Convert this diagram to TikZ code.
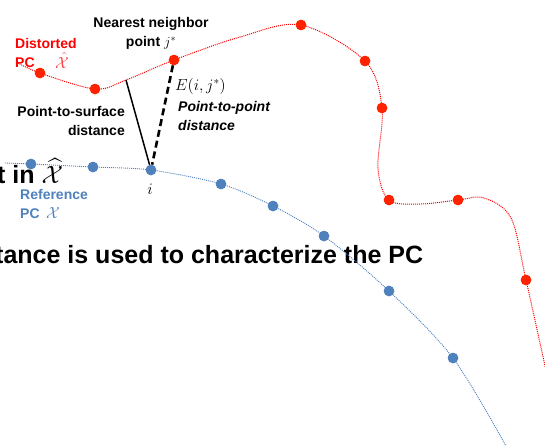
\RequirePackage{fix-cm}
\documentclass[tikz,border=0pt]{standalone}
\usepackage{amsmath,amssymb}
\usepackage{fontspec}
\setsansfont{Liberation Sans}
\usepackage{tikz}
\usetikzlibrary{positioning}
\definecolor{ptred}{RGB}{255,34,0}
\definecolor{ptblue}{RGB}{79,129,189}

\begin{document}
\begin{tikzpicture}[
  x=1pt, y=-1pt,
  rdot/.style={circle, fill=ptred, inner sep=0pt, minimum size=10.5pt},
  bdot/.style={circle, fill=ptblue, inner sep=0pt, minimum size=10.5pt},
  rcurve/.style={draw=red, line width=1pt, dash pattern=on 1pt off 1pt},
  bcurve/.style={draw=ptblue, line width=0.9pt, dash pattern=on 1pt off 1pt},
  lab/.style={font=\sffamily\bfseries\fontsize{14}{19}\selectfont, inner sep=0pt},
  mth/.style={font=\fontsize{16}{19}\selectfont, inner sep=0pt},
  big/.style={font=\sffamily\bfseries\fontsize{25}{30}\selectfont, inner sep=0pt, anchor=base west}
]
\useasboundingbox (0,0) rectangle (545,444);
\clip (0,0) rectangle (545,444);

\node[big] (tin)  at (-3,183) {t in $\widehat{\mathcal{X}}$};
\node[big] (used) at (-5,263) {tance is used to characterize the PC};

\coordinate (r0) at (16,62);
\node[rdot] (r1) at (40,73) {};
\node[rdot] (r2) at (95,89) {};
\coordinate (p)  at (126,80);
\node[rdot] (r3) at (174,60) {};
\coordinate (ra) at (240,37);
\node[rdot] (r4) at (301,25) {};
\node[rdot] (r5) at (365,61) {};
\node[rdot] (r6) at (382,108) {};
\coordinate (rb) at (378,168);
\node[rdot] (r7) at (389,200) {};
\coordinate (rc) at (420,204);
\node[rdot] (r8) at (458,200) {};
\coordinate (rd) at (484,198);
\coordinate (re) at (511,218);
\node[rdot] (r9) at (526,280) {};
\coordinate (rf) at (547,375);

\coordinate (b0) at (5,163);
\node[bdot] (b1) at (31,164) {};
\node[bdot] (b2) at (93,167) {};
\node[bdot] (b3) at (151,170) {};
\node[bdot] (b4) at (221,184) {};
\node[bdot] (b5) at (273,206) {};
\node[bdot] (b6) at (324,236) {};
\node[bdot] (b7) at (389,291) {};
\node[bdot] (b8) at (453,358) {};
\coordinate (b9) at (506,446);

\draw[rcurve] plot[smooth, tension=0.55] coordinates {(r0) (r1.center) (r2.center) (p) (r3.center) (ra) (r4.center) (r5.center) (r6.center) (rb) (r7.center) (rc) (r8.center) (rd) (re) (r9.center) (rf)};
\draw[bcurve] plot[smooth] coordinates {(b0) (b1.center) (b2.center) (b3.center) (b4.center) (b5.center) (b6.center) (b7.center) (b8.center) (b9)};
\foreach \n in {1,...,9} \node[rdot] at (r\n) {};
\foreach \n in {1,...,8} \node[bdot] at (b\n) {};

\draw[line width=1.5pt] (p) -- (b3);
\draw[line width=2.6pt, dash pattern=on 7pt off 4pt] (r3) -- (b3);

\node[lab, align=center, anchor=base] (nn) at (151,47) {Nearest neighbor\\point $j^*$};
\node[lab, align=left, anchor=base west, text=red] (dist) at (15,67) {Distorted\\PC};
\node[mth, text=red!75, anchor=base] (xd) at (62,68) {$\hat{\mathcal{X}}$};
\node[lab, align=right, anchor=base east] (p2s) at (125,135) {Point-to-surface\\distance};
\node[mth, anchor=base west] (e) at (175,90) {$E(i,j^*)$};
\node[lab, align=left, anchor=base west, font=\sffamily\bfseries\itshape\fontsize{14}{19}\selectfont] (p2p) at (178,130) {Point-to-point\\distance};
\node[mth, anchor=base] (i) at (150,194) {$i$};
\node[lab, align=left, anchor=base west, text=ptblue] (ref) at (20,218) {Reference\\PC};
\node[mth, text=ptblue, anchor=base] (xr) at (53,218) {$\mathcal{X}$};
\end{tikzpicture}
\end{document}
